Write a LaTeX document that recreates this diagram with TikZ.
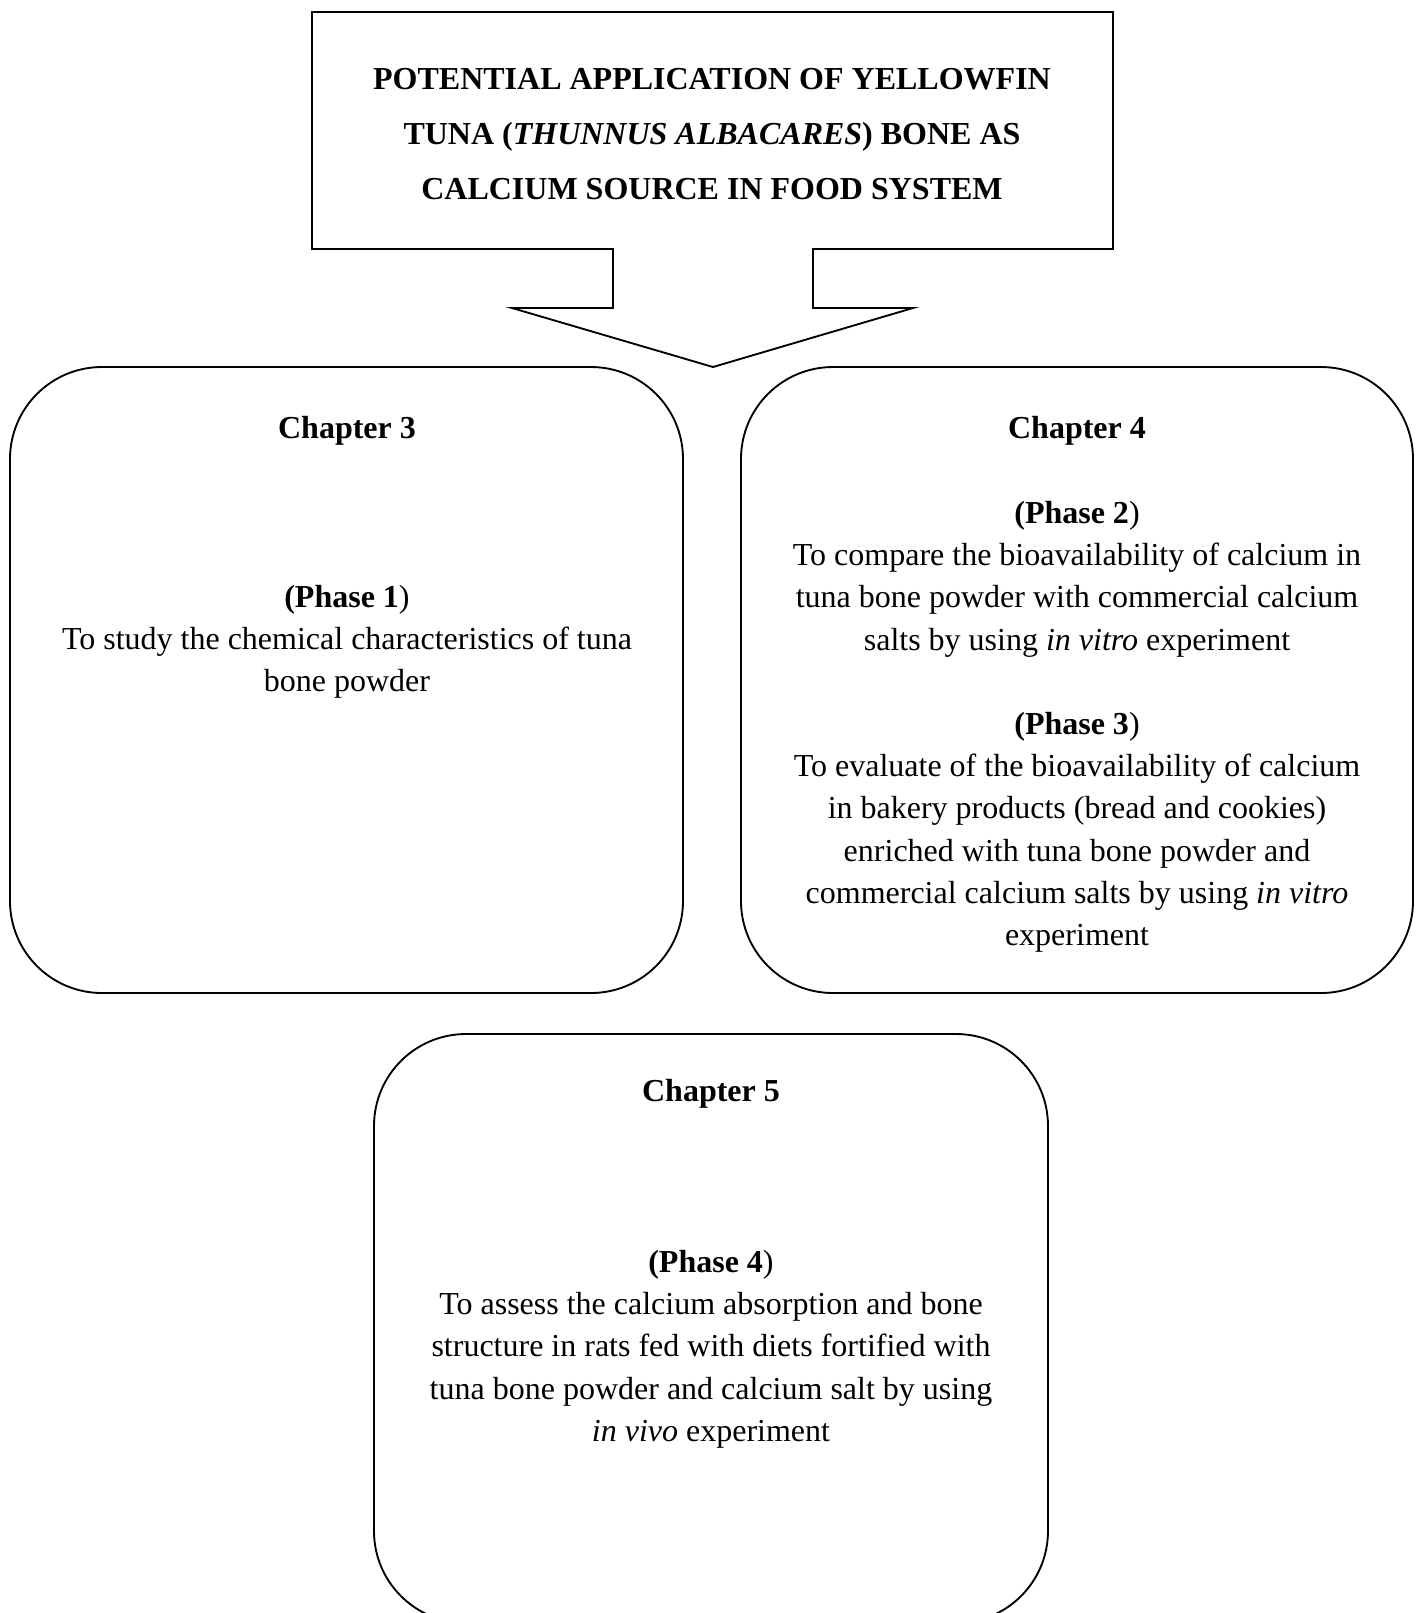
\documentclass[tikz,border=0pt]{standalone}
\usepackage{fontspec}
\setmainfont{Liberation Serif}
\begin{document}
\begin{tikzpicture}[x=0.375pt,y=-0.375pt,
  line width=0.7pt,
  chapbox/.style={draw=black, rounded corners=34.5pt},
  body/.style={inner sep=0pt, anchor=north, align=center, font=\fontsize{12}{15.86}\selectfont},
  ttl/.style={inner sep=0pt, anchor=north, align=center, font=\fontsize{12}{20.6}\selectfont\bfseries}]
\useasboundingbox (0,0) rectangle (1421,1613);
\clip (0,0) rectangle (1421,1613);
% callout
\draw (312,12) -- (1113,12) -- (1113,249) -- (813,249) -- (813,308) -- (913,308)
  -- (713,367) -- (512,308) -- (613,308) -- (613,249) -- (312,249) -- cycle;
\node[ttl] (title) at (712,67) {POTENTIAL APPLICATION OF YELLOWFIN\\
  TUNA (\textit{THUNNUS ALBACARES}) BONE AS\\
  CALCIUM SOURCE IN FOOD SYSTEM};
% boxes
\draw[chapbox] (10,367) rectangle (683,993);
\draw[chapbox] (741,367) rectangle (1413,993);
\draw[chapbox] (374,1034) rectangle (1048,1623);
% chapter 3
\node[body] (c3) at (347,415) {\textbf{Chapter 3}};
\node[body] (p1) at (347,584) {\textbf{(Phase 1})\\
  To study the chemical characteristics of tuna\\
  bone powder};
% chapter 4
\node[body] (c4) at (1077,415) {\textbf{Chapter 4}};
\node[body] (p2) at (1077,500) {\textbf{(Phase 2})\\
  To compare the bioavailability of calcium in\\
  tuna bone powder with commercial calcium\\
  salts by using \textit{in vitro} experiment};
\node[body] (p3) at (1077,711) {\textbf{(Phase 3})\\
  To evaluate of the bioavailability of calcium\\
  in bakery products (bread and cookies)\\
  enriched with tuna bone powder and\\
  commercial calcium salts by using \textit{in vitro}\\
  experiment};
% chapter 5
\node[body] (c5) at (711,1078) {\textbf{Chapter 5}};
\node[body] (p4) at (711,1249) {\textbf{(Phase 4})\\
  To assess the calcium absorption and bone\\
  structure in rats fed with diets fortified with\\
  tuna bone powder and calcium salt by using\\
  \textit{in vivo} experiment};
\end{tikzpicture}
\end{document}
